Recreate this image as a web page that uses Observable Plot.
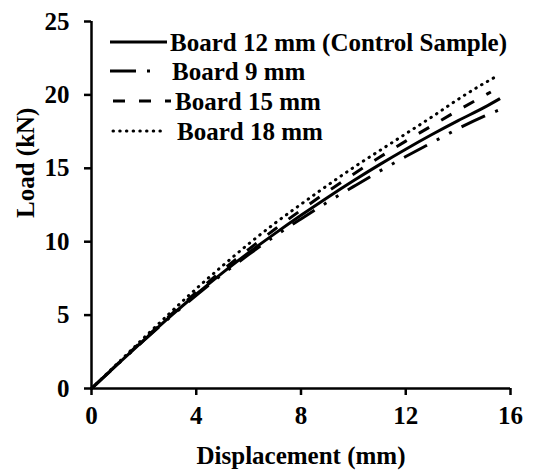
<!DOCTYPE html>
<html><head><meta charset="utf-8">
<script src="https://cdn.jsdelivr.net/npm/d3@7"></script>
<script src="https://cdn.jsdelivr.net/npm/@observablehq/plot@0.6"></script>
<style>
html,body{margin:0;padding:0;background:#fff;}
#chart{position:relative;width:539px;height:470px;}
#chart svg.legend{position:absolute;left:0;top:0;pointer-events:none;}
</style></head><body><div id="chart"></div>
<script>
const seriesNames = ["Board 12 mm (Control Sample)", "Board 9 mm", "Board 15 mm", "Board 18 mm"];
const xTicks = [0, 4, 8, 12, 16];
const yTicks = [0, 5, 10, 15, 20, 25];

const x12 = [0, 1, 2, 3, 4, 5, 6, 7, 8, 9, 10, 11, 12, 13, 14, 15, 15.6];
const y12 = [0, 1.66, 3.3, 4.9, 6.42, 7.88, 9.25, 10.55, 11.8, 13.0, 14.15, 15.25, 16.3, 17.3, 18.25, 19.15, 19.75];
const x9 = [0, 1, 2, 3, 4, 5, 6, 7, 8, 9, 10, 11, 12, 13, 14, 15, 15.6];
const y9 = [0, 1.65, 3.27, 4.85, 6.35, 7.78, 9.12, 10.38, 11.55, 12.68, 13.75, 14.8, 15.8, 16.75, 17.7, 18.55, 19.0];
const x15 = [0, 1, 2, 3, 4, 5, 6, 7, 8, 9, 10, 11, 12, 13, 14, 15, 15.25];
const y15 = [0, 1.68, 3.35, 4.98, 6.55, 8.05, 9.48, 10.85, 12.15, 13.4, 14.6, 15.75, 16.85, 17.9, 18.95, 19.95, 20.2];
const x18 = [0, 1, 2, 3, 4, 5, 6, 7, 8, 9, 10, 11, 12, 13, 14, 15, 15.4];
const y18 = [0, 1.72, 3.45, 5.15, 6.8, 8.35, 9.85, 11.25, 12.55, 13.82, 15.05, 16.2, 17.35, 18.5, 19.7, 20.8, 21.2];

const xs = [x12, x9, x15, x18];
const ys = [y12, y9, y15, y18];
const styles = [
  {dash: null, cap: "butt", x1: 110, x2: 167},
  {dash: "26,11,3,11,3,11", cap: "butt", x1: 110, x2: 155},
  {dash: "12,14", cap: "butt", x1: 113, x2: 171},
  {dash: "0.5,6.2", cap: "round", x1: 113, x2: 166}
];
const textX = [170, 172, 175, 177];
const FONT = "'Liberation Serif', 'Times New Roman', serif";
const FS = 25;

const lineMarks = seriesNames.map((name, i) => {
  const rows = xs[i].map((x, j) => ({series: name, x, y: ys[i][j]}));
  return Plot.line(rows, {
    x: "x", y: "y", stroke: "black", strokeWidth: 3,
    strokeDasharray: styles[i].dash || undefined,
    strokeLinecap: styles[i].cap, curve: "monotone-x"
  });
});

const W = 539, H = 470;
const chart = Plot.plot({
  width: W, height: H,
  marginLeft: 91, marginRight: 29, marginTop: 21, marginBottom: 82,
  style: {fontFamily: FONT, fontWeight: "bold", fontSize: FS + "px", color: "black", background: "white"},
  x: {domain: [0, 16]},
  y: {domain: [0, 25]},
  marks: [
    ...lineMarks,
    Plot.axisX({ticks: xTicks, tickSize: 7, tickPadding: 11, label: null, strokeWidth: 2.5, fontSize: FS, tickFormat: d => String(d)}),
    Plot.axisY({ticks: yTicks, tickSize: 7, tickPadding: 15, label: null, strokeWidth: 2.5, fontSize: FS, tickFormat: d => String(d)}),
    Plot.ruleX([0], {strokeWidth: 2.5}),
    Plot.ruleY([0], {strokeWidth: 2.5}),
    Plot.text(["Displacement (mm)"], {frameAnchor: "bottom", dy: 67, fontSize: FS, fontWeight: "bold", lineAnchor: "middle"}),
    Plot.text(["Load (kN)"], {frameAnchor: "left", dx: -66, dy: 13, rotate: -90, fontSize: FS, fontWeight: "bold", lineAnchor: "middle"})
  ]
});
const root = document.getElementById("chart");
root.appendChild(chart);

// legend overlay
const leg = d3.select(root).append("svg").attr("class", "legend").attr("width", W).attr("height", H);
const rowY = [42, 71, 101, 131];
seriesNames.forEach((name, i) => {
  const g = leg.append("g");
  g.append("line").attr("x1", styles[i].x1).attr("x2", styles[i].x2).attr("y1", rowY[i]).attr("y2", rowY[i])
    .attr("stroke", "black").attr("stroke-width", 3)
    .attr("stroke-dasharray", styles[i].dash || null)
    .attr("stroke-linecap", styles[i].cap);
  g.append("text").attr("x", textX[i]).attr("y", rowY[i] + 8.5)
    .attr("font-family", FONT).attr("font-weight", "bold").attr("font-size", FS)
    .attr("fill", "black").text(name);
});
</script></body></html>
